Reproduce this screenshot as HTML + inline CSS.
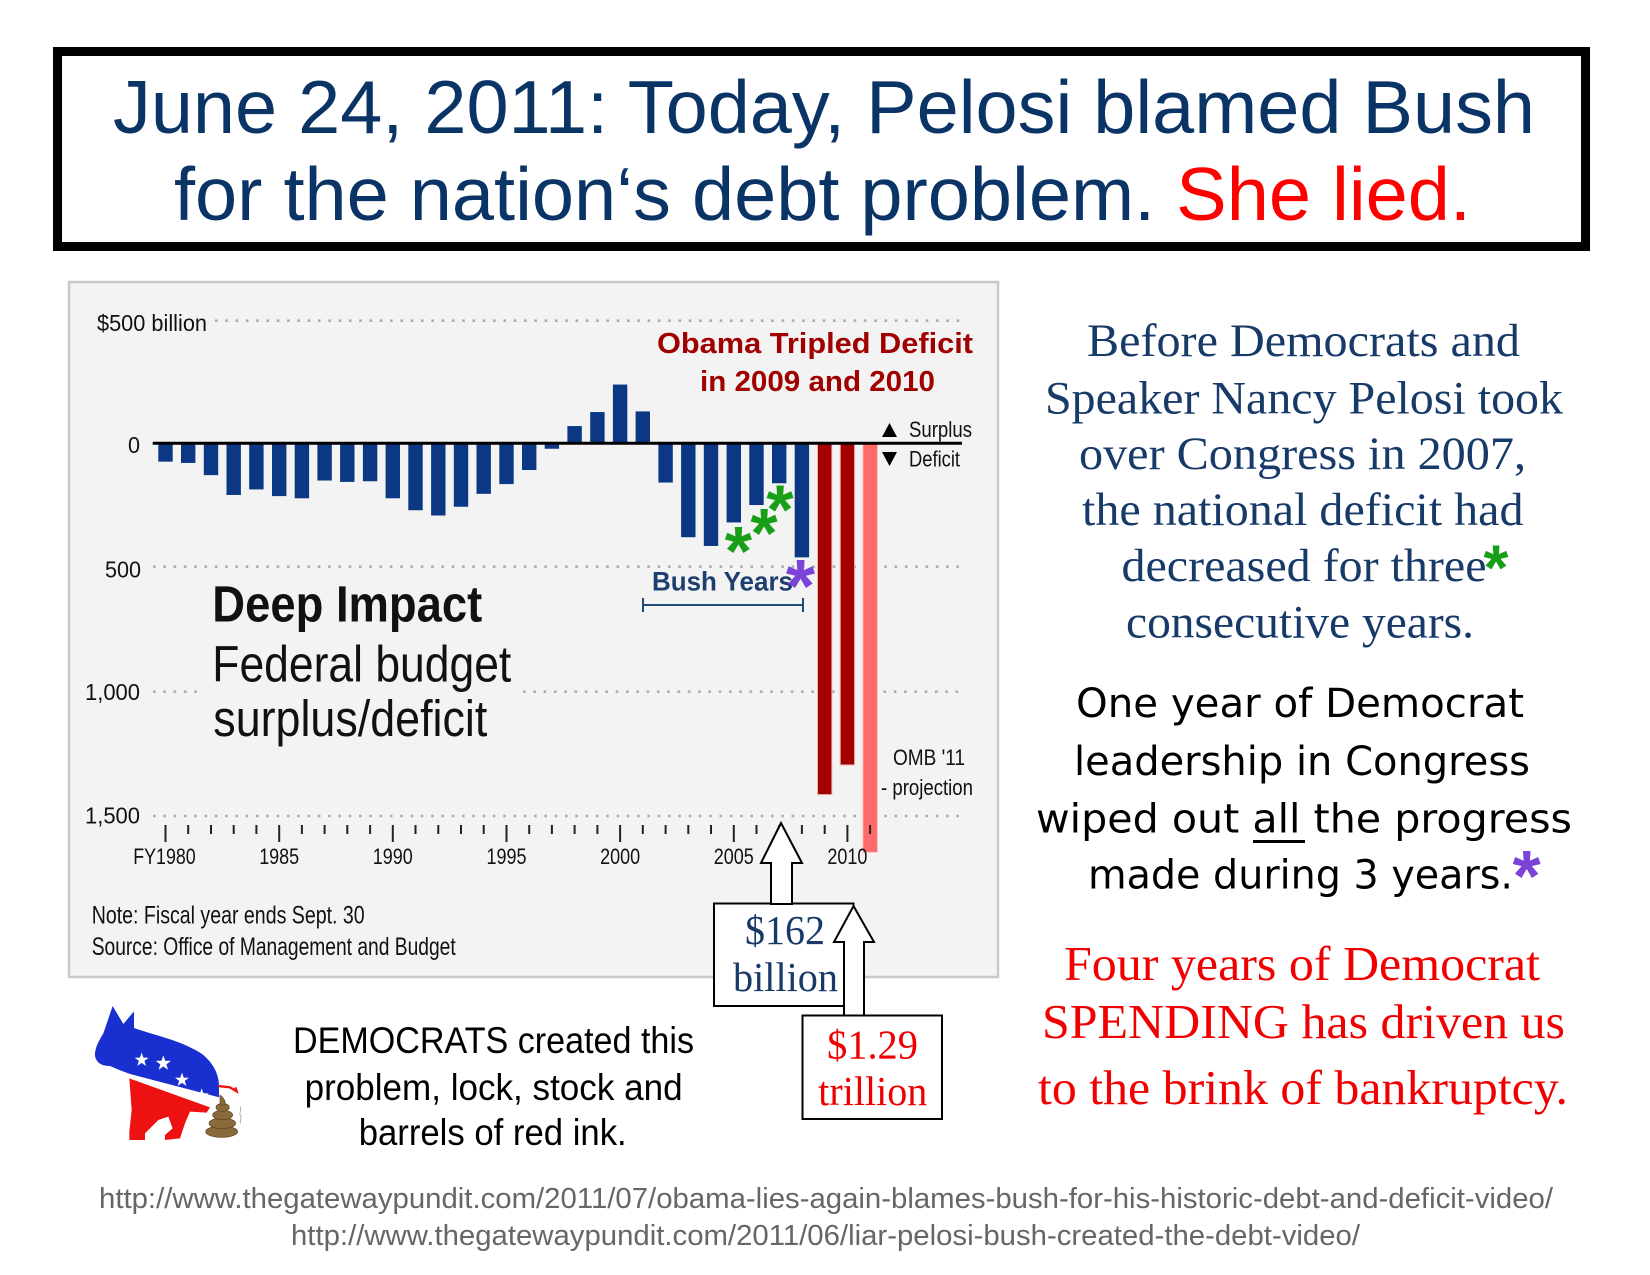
<!DOCTYPE html>
<html>
<head>
<meta charset="utf-8">
<style>
html,body{margin:0;padding:0;background:#fff;}
svg{display:block;}
</style>
</head>
<body>
<svg width="1650" height="1275" viewBox="0 0 1650 1275" xmlns="http://www.w3.org/2000/svg">
<rect x="0" y="0" width="1650" height="1275" fill="#ffffff"/>

<!-- Title box -->
<rect x="57.5" y="51.5" width="1528" height="195" fill="#ffffff" stroke="#000" stroke-width="9"/>
<g font-family="'Liberation Sans', Arial, sans-serif" font-size="75">
  <text x="113" y="133" textLength="1422" lengthAdjust="spacingAndGlyphs" fill="#0b3466">June 24, 2011: Today, Pelosi blamed Bush</text>
  <text x="174" y="220" textLength="1297" lengthAdjust="spacingAndGlyphs" fill="#0b3466">for the nation‘s debt problem.<tspan fill="#ff0000"> She lied.</tspan></text>
</g>

<!-- Chart panel -->
<rect x="69" y="282" width="929" height="695" fill="#f3f3f3" stroke="#c9c9c9" stroke-width="2.5"/>

<!-- gridlines -->
<g stroke="#acacac" stroke-width="2.6" stroke-dasharray="2.6 7.7" fill="none">
  <line x1="215" y1="320.7" x2="962" y2="320.7"/>
  <line x1="153" y1="566.7" x2="962" y2="566.7"/>
  <line x1="153" y1="691.7" x2="198" y2="691.7"/>
  <line x1="523" y1="691.7" x2="962" y2="691.7"/>
  <line x1="153" y1="816" x2="962" y2="816"/>
</g>

<!-- bars -->
<g fill="#0b3784">
  <rect x="158.3" y="443.3" width="14.4" height="18.35"/>
  <rect x="181.0" y="443.3" width="14.4" height="19.65"/>
  <rect x="203.8" y="443.3" width="14.4" height="31.83"/>
  <rect x="226.5" y="443.3" width="14.4" height="51.68"/>
  <rect x="249.2" y="443.3" width="14.4" height="46.11"/>
  <rect x="272.0" y="443.3" width="14.4" height="52.80"/>
  <rect x="294.7" y="443.3" width="14.4" height="55.01"/>
  <rect x="317.4" y="443.3" width="14.4" height="37.23"/>
  <rect x="340.1" y="443.3" width="14.4" height="38.60"/>
  <rect x="362.9" y="443.3" width="14.4" height="37.95"/>
  <rect x="385.6" y="443.3" width="14.4" height="54.96"/>
  <rect x="408.3" y="443.3" width="14.4" height="66.95"/>
  <rect x="431.1" y="443.3" width="14.4" height="72.20"/>
  <rect x="453.8" y="443.3" width="14.4" height="63.44"/>
  <rect x="476.5" y="443.3" width="14.4" height="50.54"/>
  <rect x="499.3" y="443.3" width="14.4" height="40.79"/>
  <rect x="522.0" y="443.3" width="14.4" height="26.71"/>
  <rect x="544.7" y="443.3" width="14.4" height="5.45"/>
  <rect x="567.4" y="426.07" width="14.4" height="17.23"/>
  <rect x="590.2" y="412.06" width="14.4" height="31.24"/>
  <rect x="612.9" y="384.56" width="14.4" height="58.74"/>
  <rect x="635.6" y="411.42" width="14.4" height="31.88"/>
  <rect x="658.4" y="443.3" width="14.4" height="39.24"/>
  <rect x="681.1" y="443.3" width="14.4" height="93.91"/>
  <rect x="703.8" y="443.3" width="14.4" height="102.64"/>
  <rect x="726.6" y="443.3" width="14.4" height="79.16"/>
  <rect x="749.3" y="443.3" width="14.4" height="61.73"/>
  <rect x="772.0" y="443.3" width="14.4" height="39.97"/>
  <rect x="794.7" y="443.3" width="14.4" height="114.05"/>
</g>
<rect x="817.5" y="443.3" width="14.4" height="351.34" fill="#a30000" stroke="#f2b8b8" stroke-width="1"/>
<rect x="840.2" y="443.3" width="14.4" height="321.69" fill="#a30000" stroke="#f2b8b8" stroke-width="1"/>
<rect x="862.9" y="443.3" width="14.6" height="409.1" fill="#ff6b6b" stroke="#fbc4c4" stroke-width="1"/>

<!-- zero line -->
<line x1="152.7" y1="443.3" x2="962" y2="443.3" stroke="#000" stroke-width="3"/>

<!-- ticks -->
<g stroke="#222" stroke-width="2">
  <line x1="165.5" y1="825" x2="165.5" y2="842"/>
  <line x1="188.2" y1="825" x2="188.2" y2="834"/>
  <line x1="211.0" y1="825" x2="211.0" y2="834"/>
  <line x1="233.7" y1="825" x2="233.7" y2="834"/>
  <line x1="256.4" y1="825" x2="256.4" y2="834"/>
  <line x1="279.2" y1="825" x2="279.2" y2="842"/>
  <line x1="301.9" y1="825" x2="301.9" y2="834"/>
  <line x1="324.6" y1="825" x2="324.6" y2="834"/>
  <line x1="347.3" y1="825" x2="347.3" y2="834"/>
  <line x1="370.1" y1="825" x2="370.1" y2="834"/>
  <line x1="392.8" y1="825" x2="392.8" y2="842"/>
  <line x1="415.5" y1="825" x2="415.5" y2="834"/>
  <line x1="438.3" y1="825" x2="438.3" y2="834"/>
  <line x1="461.0" y1="825" x2="461.0" y2="834"/>
  <line x1="483.7" y1="825" x2="483.7" y2="834"/>
  <line x1="506.5" y1="825" x2="506.5" y2="842"/>
  <line x1="529.2" y1="825" x2="529.2" y2="834"/>
  <line x1="551.9" y1="825" x2="551.9" y2="834"/>
  <line x1="574.6" y1="825" x2="574.6" y2="834"/>
  <line x1="597.4" y1="825" x2="597.4" y2="834"/>
  <line x1="620.1" y1="825" x2="620.1" y2="842"/>
  <line x1="642.8" y1="825" x2="642.8" y2="834"/>
  <line x1="665.6" y1="825" x2="665.6" y2="834"/>
  <line x1="688.3" y1="825" x2="688.3" y2="834"/>
  <line x1="711.0" y1="825" x2="711.0" y2="834"/>
  <line x1="733.8" y1="825" x2="733.8" y2="842"/>
  <line x1="756.5" y1="825" x2="756.5" y2="834"/>
  <line x1="779.2" y1="825" x2="779.2" y2="834"/>
  <line x1="801.9" y1="825" x2="801.9" y2="834"/>
  <line x1="824.7" y1="825" x2="824.7" y2="834"/>
  <line x1="847.4" y1="825" x2="847.4" y2="842"/>
  <line x1="870.1" y1="825" x2="870.1" y2="834"/>
</g>

<!-- axis labels -->
<g font-family="'Liberation Sans', Arial, sans-serif" font-size="23" fill="#111">
  <text x="97" y="331" textLength="110" lengthAdjust="spacingAndGlyphs">$500 billion</text>
  <text x="128" y="453" textLength="12" lengthAdjust="spacingAndGlyphs">0</text>
  <text x="105" y="577.7" textLength="36" lengthAdjust="spacingAndGlyphs">500</text>
  <text x="85" y="700" textLength="55" lengthAdjust="spacingAndGlyphs">1,000</text>
  <text x="85" y="823.3" textLength="55" lengthAdjust="spacingAndGlyphs">1,500</text>
</g>
<g font-family="'Liberation Sans', Arial, sans-serif" font-size="22" fill="#111">
  <text x="133.3" y="864" textLength="62.4" lengthAdjust="spacingAndGlyphs">FY1980</text>
  <text x="259.2" y="864" textLength="40" lengthAdjust="spacingAndGlyphs">1985</text>
  <text x="372.8" y="864" textLength="40" lengthAdjust="spacingAndGlyphs">1990</text>
  <text x="486.5" y="864" textLength="40" lengthAdjust="spacingAndGlyphs">1995</text>
  <text x="600.1" y="864" textLength="40" lengthAdjust="spacingAndGlyphs">2000</text>
  <text x="713.8" y="864" textLength="40" lengthAdjust="spacingAndGlyphs">2005</text>
  <text x="827.4" y="864" textLength="40" lengthAdjust="spacingAndGlyphs">2010</text>
</g>

<!-- legend -->
<polygon points="882,437 897,437 889.5,423" fill="#000"/>
<polygon points="882,452 897,452 889.5,466" fill="#000"/>
<g font-family="'Liberation Sans', Arial, sans-serif" font-size="22" fill="#111">
  <text x="909" y="437" textLength="63" lengthAdjust="spacingAndGlyphs">Surplus</text>
  <text x="909" y="466.5" textLength="51" lengthAdjust="spacingAndGlyphs">Deficit</text>
  <text x="893" y="765" textLength="72" lengthAdjust="spacingAndGlyphs">OMB '11</text>
  <text x="881" y="795" textLength="92" lengthAdjust="spacingAndGlyphs">- projection</text>
</g>

<!-- Obama text -->
<g font-family="'Liberation Sans', Arial, sans-serif" font-size="29" font-weight="bold" fill="#a00000">
  <text x="657" y="353" textLength="316" lengthAdjust="spacingAndGlyphs">Obama Tripled Deficit</text>
  <text x="700" y="391" textLength="235" lengthAdjust="spacingAndGlyphs">in 2009 and 2010</text>
</g>

<!-- Bush years -->
<text x="652" y="590.7" font-family="'Liberation Sans', Arial, sans-serif" font-size="27" font-weight="bold" fill="#1d3e6e" textLength="141" lengthAdjust="spacingAndGlyphs">Bush Years</text>
<g stroke="#1f4a7a" stroke-width="2">
  <line x1="643" y1="605" x2="803" y2="605"/>
  <line x1="643" y1="598" x2="643" y2="612"/>
  <line x1="803" y1="598" x2="803" y2="612"/>
</g>
<g font-family="'Liberation Sans', Arial, sans-serif" font-weight="bold">
  <text x="724.7" y="575" font-size="70" fill="#17a017">*</text>
  <text x="750.4" y="557" font-size="70" fill="#17a017">*</text>
  <text x="766.4" y="533.5" font-size="70" fill="#17a017">*</text>
  <text x="785.9" y="612" font-size="75" fill="#7b43d8">*</text>
</g>

<!-- Deep impact -->
<g font-family="'Liberation Sans', Arial, sans-serif" fill="#111">
  <text x="212.3" y="621.7" font-size="51" font-weight="bold" textLength="270" lengthAdjust="spacingAndGlyphs">Deep Impact</text>
  <text x="212.3" y="681.7" font-size="51" textLength="299" lengthAdjust="spacingAndGlyphs">Federal budget</text>
  <text x="213.3" y="736" font-size="51" textLength="274" lengthAdjust="spacingAndGlyphs">surplus/deficit</text>
</g>

<!-- notes -->
<g font-family="'Liberation Sans', Arial, sans-serif" font-size="25" fill="#111">
  <text x="91.7" y="923.3" textLength="273" lengthAdjust="spacingAndGlyphs">Note: Fiscal year ends Sept. 30</text>
  <text x="91.7" y="955" textLength="364" lengthAdjust="spacingAndGlyphs">Source: Office of Management and Budget</text>
</g>

<!-- Box 1 -->
<rect x="714" y="903.5" width="139.5" height="102.5" fill="#fff" stroke="#000" stroke-width="2"/>
<polygon points="781,823 802,863 792,863 792,904 771,904 771,863 761,863" fill="#fff" stroke="#000" stroke-width="2" stroke-linejoin="miter"/>
<g font-family="'Liberation Serif', 'Times New Roman', serif" font-size="41" fill="#173a68">
  <text x="745" y="944" textLength="80" lengthAdjust="spacingAndGlyphs">$162</text>
  <text x="733" y="991" textLength="105" lengthAdjust="spacingAndGlyphs">billion</text>
</g>
<!-- Arrow 2 -->
<polygon points="853.5,906 874,942 864,942 864,1016 844,1016 844,942 834,942" fill="#fff" stroke="#000" stroke-width="2"/>
<!-- Box 2 -->
<rect x="802.5" y="1015.5" width="139.5" height="103.5" fill="#fff" stroke="#000" stroke-width="2"/>
<g font-family="'Liberation Serif', 'Times New Roman', serif" font-size="41" fill="#ee0000">
  <text x="827" y="1058.3" textLength="91" lengthAdjust="spacingAndGlyphs">$1.29</text>
  <text x="818.3" y="1105" textLength="109" lengthAdjust="spacingAndGlyphs">trillion</text>
</g>

<!-- Right blue text -->
<g font-family="'Liberation Serif', 'Times New Roman', serif" font-size="47" fill="#173a68">
  <text x="1087" y="356" textLength="433" lengthAdjust="spacingAndGlyphs">Before Democrats and</text>
  <text x="1045" y="413.5" textLength="518" lengthAdjust="spacingAndGlyphs">Speaker Nancy Pelosi took</text>
  <text x="1079" y="469" textLength="447" lengthAdjust="spacingAndGlyphs">over Congress in 2007,</text>
  <text x="1082" y="525" textLength="441.5" lengthAdjust="spacingAndGlyphs">the national deficit had</text>
  <text x="1121.5" y="581" textLength="365" lengthAdjust="spacingAndGlyphs">decreased for three</text>
  <text x="1126" y="637.7" textLength="348" lengthAdjust="spacingAndGlyphs">consecutive years.</text>
</g>
<text x="1483.5" y="589.5" font-family="'Liberation Sans', Arial, sans-serif" font-weight="bold" font-size="64" fill="#17a017">*</text>

<!-- Right black text -->
<g font-family="'DejaVu Sans', 'Liberation Sans', sans-serif" font-size="40" fill="#000">
  <text x="1076" y="717" textLength="448" lengthAdjust="spacingAndGlyphs">One year of Democrat</text>
  <text x="1074" y="775" textLength="456" lengthAdjust="spacingAndGlyphs">leadership in Congress</text>
  <text x="1036" y="832.5" textLength="536" lengthAdjust="spacingAndGlyphs">wiped out all the progress</text>
  <text x="1088" y="888.5" textLength="425" lengthAdjust="spacingAndGlyphs">made during 3 years.</text>
</g>
<line x1="1253" y1="841.5" x2="1305" y2="841.5" stroke="#000" stroke-width="3"/>
<text x="1512.6" y="901" font-family="'Liberation Sans', Arial, sans-serif" font-weight="bold" font-size="72" fill="#7b43d8">*</text>

<!-- Right red text -->
<g font-family="'Liberation Serif', 'Times New Roman', serif" font-size="49" fill="#f00000">
  <text x="1064" y="980" textLength="476" lengthAdjust="spacingAndGlyphs">Four years of Democrat</text>
  <text x="1042" y="1038" textLength="523" lengthAdjust="spacingAndGlyphs">SPENDING has driven us</text>
  <text x="1038" y="1104" textLength="530" lengthAdjust="spacingAndGlyphs">to the brink of bankruptcy.</text>
</g>

<!-- Bottom middle text -->
<g font-family="'Liberation Sans', Arial, sans-serif" font-size="37" fill="#000">
  <text x="293" y="1053" textLength="401" lengthAdjust="spacingAndGlyphs">DEMOCRATS created this</text>
  <text x="304.6" y="1100" textLength="378" lengthAdjust="spacingAndGlyphs">problem, lock, stock and</text>
  <text x="358.7" y="1145" textLength="268" lengthAdjust="spacingAndGlyphs">barrels of red ink.</text>
</g>

<!-- URLs -->
<g font-family="'Liberation Sans', Arial, sans-serif" font-size="29" fill="#666">
  <text x="99" y="1208" textLength="1454" lengthAdjust="spacingAndGlyphs">http://www.thegatewaypundit.com/2011/07/obama-lies-again-blames-bush-for-his-historic-debt-and-deficit-video/</text>
  <text x="291" y="1245" textLength="1069" lengthAdjust="spacingAndGlyphs">http://www.thegatewaypundit.com/2011/06/liar-pelosi-bush-created-the-debt-video/</text>
</g>

<!-- Donkey logo -->
<g transform="translate(90,1000) scale(0.3333)">
  <path d="M60,198 C40,198 20,192 15,168 C13,145 28,120 40,100 L68,18 L100,72 L132,34 L132,84 C180,102 270,120 330,158 C365,182 386,218 387,255 L387,292 L120,222 C100,215 80,207 60,198 Z" fill="#1a2fd0"/>
  <polygon points="118,222 387,292 387,305 362,322 116,234" fill="#ffffff"/>
  <polygon points="118,235 360,322 350,338 300,335 285,370 270,415 225,420 225,405 248,385 235,350 205,360 180,385 165,400 165,420 118,420 118,395 125,330" fill="#ee1111"/>
  <path d="M384,258 L420,262 L440,274 L436,262" stroke="#ee1111" stroke-width="7" fill="none"/>
  <g fill="#fff">
    <polygon transform="translate(155,180) scale(1.1)" points="0,-20 4.7,-6.47 19.02,-6.18 7.61,2.47 11.76,16.18 0,8 -11.76,16.18 -7.61,2.47 -19.02,-6.18 -4.7,-6.47"/>
    <polygon transform="translate(220,190) scale(1.2)" points="0,-20 4.7,-6.47 19.02,-6.18 7.61,2.47 11.76,16.18 0,8 -11.76,16.18 -7.61,2.47 -19.02,-6.18 -4.7,-6.47"/>
    <polygon transform="translate(276,240) scale(1.1)" points="0,-20 4.7,-6.47 19.02,-6.18 7.61,2.47 11.76,16.18 0,8 -11.76,16.18 -7.61,2.47 -19.02,-6.18 -4.7,-6.47"/>
    <polygon transform="translate(335,287) scale(1.1)" points="0,-20 4.7,-6.47 19.02,-6.18 7.61,2.47 11.76,16.18 0,8 -11.76,16.18 -7.61,2.47 -19.02,-6.18 -4.7,-6.47"/>
  </g>
  <g fill="#8a6a3a" stroke="#5a4020" stroke-width="2">
    <ellipse cx="395" cy="395" rx="48" ry="17"/>
    <ellipse cx="397" cy="370" rx="40" ry="16"/>
    <ellipse cx="398" cy="345" rx="30" ry="14"/>
    <ellipse cx="398" cy="322" rx="20" ry="12"/>
    <path d="M390,285 C402,295 408,305 405,315 L390,315 Z"/>
  </g>
  <path d="M450,320 C458,330 444,338 452,348 C458,356 446,362 452,370" stroke="#888" stroke-width="2" fill="none"/>
</g>
</svg>
</body>
</html>
